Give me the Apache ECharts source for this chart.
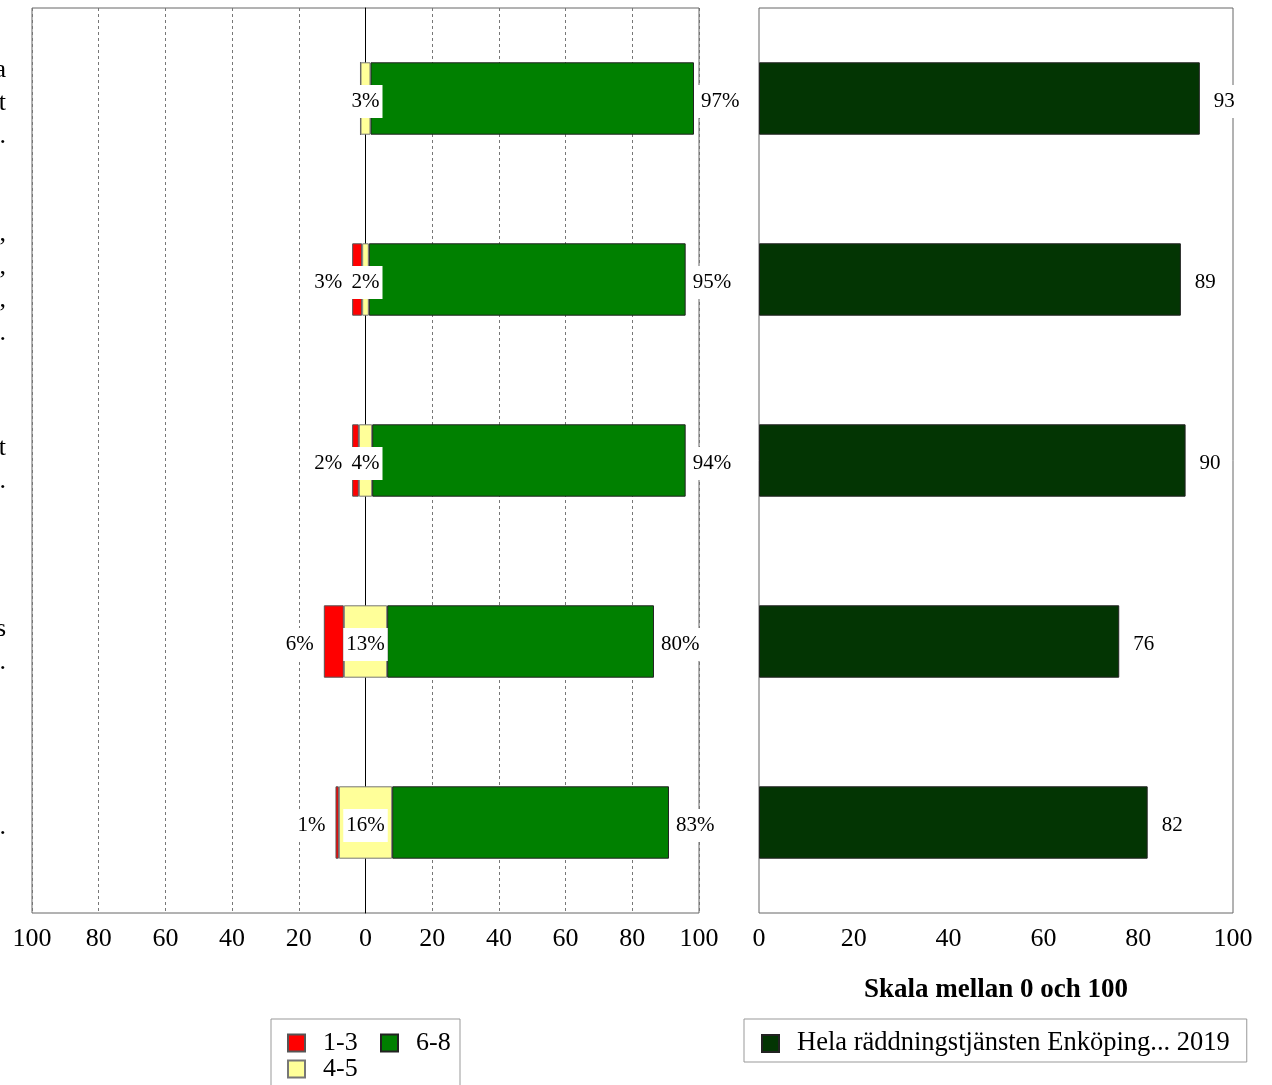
<!DOCTYPE html>
<html lang="sv">
<head>
<meta charset="UTF-8">
<title>Skala mellan 0 och 100</title>
<script src="https://cdn.jsdelivr.net/npm/echarts@6/dist/echarts.min.js"></script>
</head>
<body style="margin:0">
<div id="main" style="width:1272px;height:1085px;"></div>
<script>
// only the tail of each question is visible in the picture
var labels = ['a\nt\n.', ',\n,\n,\n.', 't\n.', 's\n.', '.'];
var low = [0, 3, 2, 6, 1];       // 1-3
var mid = [3, 2, 4, 13, 16];     // 4-5
var high = [97, 95, 94, 80, 83]; // 6-8
var index2019 = [93, 89, 90, 76, 82];
var legendName = 'Hela räddningstjänsten Enköping... 2019';

var font = 'Liberation Serif';
var barLabel = {
    fontFamily: font, fontSize: 21, color: '#000',
    backgroundColor: '#fff', padding: [6, 3], offset: [0, 3]
};

function items(arr) {
    return arr.map(function (v) {
        return { value: v, label: { show: v > 0 } };
    });
}

var myChart = echarts.init(document.getElementById('main'));

var option = {
    animation: false,
    textStyle: { fontFamily: font },
    grid: [
        { left: 32, top: 8, width: 667, height: 905, show: true, borderColor: '#666', borderWidth: 1, outerBoundsMode: 'none', containLabel: false },
        { left: 759, top: 8, width: 474, height: 905, show: true, borderColor: '#666', borderWidth: 1, outerBoundsMode: 'none', containLabel: false }
    ],
    legend: [{
        data: ['1-3', { name: '6-8', textStyle: { width: 44 } }, '4-5'],
        left: 271, top: 1019, width: 190,
        orient: 'horizontal',
        padding: [11, 0, 14, 16],
        itemGap: 0,
        itemWidth: 17, itemHeight: 17,
        icon: 'rect',
        borderColor: '#999', borderWidth: 1,
        textStyle: { fontFamily: font, fontSize: 26, color: '#000', lineHeight: 17, width: 57, padding: [0, 0, 0, 13] }
    }, {
        data: [legendName],
        left: 744, top: 1019,
        padding: [11, 17, 5, 17],
        itemWidth: 17, itemHeight: 17,
        icon: 'rect',
        borderColor: '#999', borderWidth: 1,
        textStyle: { fontFamily: font, fontSize: 26.5, color: '#000', lineHeight: 17, padding: [0, 0, 0, 13] }
    }],
    xAxis: [{
        gridIndex: 0, type: 'value', min: -100, max: 100, interval: 20,
        axisLine: { lineStyle: { color: '#555' } },
        axisTick: { length: 6, lineStyle: { color: '#222' } },
        axisLabel: {
            fontFamily: font, fontSize: 26, color: '#000', margin: 13,
            formatter: function (v) { return Math.abs(v); }
        },
        splitLine: { show: true, lineStyle: { type: [3, 3], color: '#777' } }
    }, {
        gridIndex: 1, type: 'value', min: 0, max: 100, interval: 20,
        name: 'Skala mellan 0 och 100', nameLocation: 'middle', nameGap: 64,
        nameTextStyle: { fontFamily: font, fontSize: 27, fontWeight: 'bold', color: '#000' },
        axisLine: { lineStyle: { color: '#555' } },
        axisTick: { length: 6, lineStyle: { color: '#222' } },
        axisLabel: { fontFamily: font, fontSize: 26, color: '#000', margin: 13 },
        splitLine: { show: false }
    }],
    yAxis: [{
        // zero line
        gridIndex: 0, type: 'category', data: labels, inverse: true,
        axisLine: { onZero: true, lineStyle: { color: '#000' } },
        axisTick: { show: false },
        axisLabel: { show: false }
    }, {
        gridIndex: 0, type: 'category', data: labels, inverse: true, position: 'left',
        axisLine: { show: false, onZero: false },
        axisTick: { show: false },
        axisLabel: {
            align: 'right', margin: 26,
            // empty first line pushes the text block down a little
            formatter: function (v) {
                return '{s|}\n' + v.split('\n').map(function (t) { return '{l|' + t + '}'; }).join('\n');
            },
            rich: {
                s: { lineHeight: 9, fontSize: 1 },
                l: { fontFamily: font, fontSize: 26, color: '#000', lineHeight: 33 }
            }
        }
    }, {
        gridIndex: 1, type: 'category', data: labels, inverse: true,
        axisLine: { show: false },
        axisTick: { show: false },
        axisLabel: { show: false }
    }],
    series: [{
        name: 'offset', type: 'bar', xAxisIndex: 0, yAxisIndex: 0,
        stack: 'div', stackStrategy: 'all', barWidth: '40%', silent: true,
        itemStyle: { color: 'transparent', borderWidth: 0 },
        data: low.map(function (v, i) { return -(v + mid[i] / 2); })
    }, {
        name: '1-3', type: 'bar', xAxisIndex: 0, yAxisIndex: 0,
        stack: 'div', stackStrategy: 'all', barWidth: '40%',
        itemStyle: { color: '#ff0000', borderColor: '#555', borderWidth: 1 },
        label: Object.assign({ position: 'left', distance: 7, formatter: '{c}%' }, barLabel),
        data: items(low)
    }, {
        name: '4-5', type: 'bar', xAxisIndex: 0, yAxisIndex: 0,
        stack: 'div', stackStrategy: 'all', barWidth: '40%',
        itemStyle: { color: '#ffff99', borderColor: '#777', borderWidth: 1 },
        label: Object.assign({ position: 'inside', formatter: '{c}%' }, barLabel),
        data: items(mid)
    }, {
        name: '6-8', type: 'bar', xAxisIndex: 0, yAxisIndex: 0,
        stack: 'div', stackStrategy: 'all', barWidth: '40%',
        itemStyle: { color: '#008000', borderColor: '#222', borderWidth: 1 },
        label: Object.assign({ position: 'right', distance: 4, formatter: '{c}%' }, barLabel),
        data: items(high)
    }, {
        name: legendName, type: 'bar', xAxisIndex: 1, yAxisIndex: 2,
        barWidth: '40%',
        itemStyle: { color: '#033503', borderColor: '#222', borderWidth: 1 },
        label: Object.assign({}, barLabel, { show: true, position: 'right', distance: 10, padding: [6, 4] }),
        data: index2019
    }]
};

myChart.setOption(option);
</script>
</body>
</html>
